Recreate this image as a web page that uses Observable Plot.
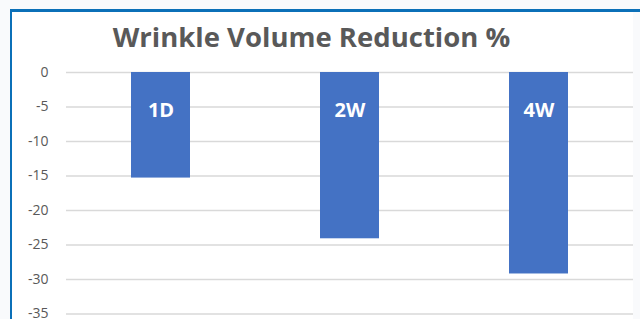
<!DOCTYPE html>
<html>
<head>
<meta charset="utf-8">
<script src="https://cdn.jsdelivr.net/npm/d3@7"></script>
<script src="https://cdn.jsdelivr.net/npm/@observablehq/plot@0.6"></script>
<style>
  html, body { margin: 0; padding: 0; background: #f9fafc; }
  body { width: 640px; height: 319px; position: relative; overflow: hidden; font-family: "Open Sans", sans-serif; }
  #frame { position: absolute; left: 10px; top: 9px; width: 621px; height: 320px; background: #fff;
           border-left: 2px solid #0b70b8; }
  #topline { position: absolute; left: 10px; top: 9px; width: 630px; height: 3px; background: #0b70b8; }
  #title { position: absolute; left: 0; top: 24px; width: 623px; text-align: center; font-size: 27.5px; line-height: 26px;
           font-weight: 700; color: #595959; white-space: nowrap; }
  #chart { position: absolute; left: 0; top: 60px; }
</style>
</head>
<body>
<div id="frame"></div>
<div id="topline"></div>
<div id="title"></div>
<div id="chart"></div>
<script>
const titleText = "Wrinkle Volume Reduction %";
const periods = ["1D", "2W", "4W"];
const values = [-15.3, -24.1, -29.2];
const yTicks = [0, -5, -10, -15, -20, -25, -30, -35];

document.getElementById("title").textContent = titleText;

const data = periods.map((p, i) => ({period: p, value: values[i]}));

const chart = Plot.plot({
  width: 640,
  height: 259,
  marginLeft: 66,
  marginRight: 7,
  marginTop: 12,
  marginBottom: 5.5,
  style: {background: "transparent", color: "#595959", fontFamily: "Open Sans, sans-serif"},
  x: {domain: periods, paddingInner: 0.688, paddingOuter: 0.344, axis: null},
  y: {domain: [-35, 0], axis: null},
  marks: [
    Plot.ruleY(yTicks, {stroke: "#d9d9d9", strokeWidth: 1.5}),
    Plot.axisY({ticks: yTicks, tickSize: 0, tickPadding: 18, fontSize: 14, label: null, tickFormat: d => String(d)}),
    Plot.barY(data, {x: "period", y: "value", fill: "#4472c4"}),
    Plot.text(data, {x: "period", y: () => 0, text: "period", dy: 38.5, fill: "white",
      fontSize: 20, fontWeight: "bold", fontFamily: "Open Sans, sans-serif"})
  ]
});
document.getElementById("chart").appendChild(chart);
</script>
</body>
</html>
